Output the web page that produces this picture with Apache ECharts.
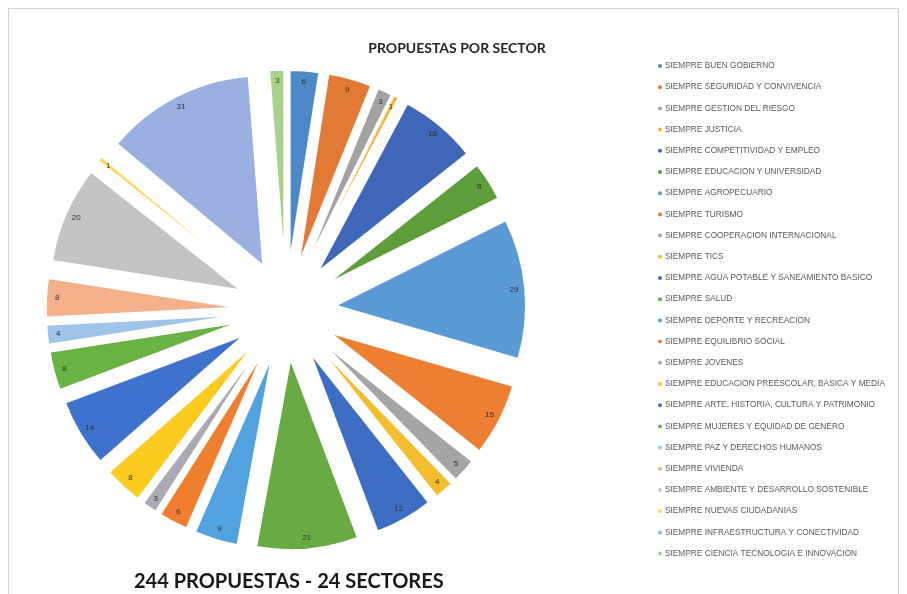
<!DOCTYPE html>
<html>
<head>
<meta charset="utf-8">
<script src="https://cdn.jsdelivr.net/npm/echarts@6/dist/echarts.min.js"></script>
<style>
html,body{margin:0;padding:0;background:#fff;}
#c{width:907px;height:594px;}
</style>
</head>
<body>
<div id="c"></div>
<script>
const categories = [
  "SIEMPRE BUEN GOBIERNO",
  "SIEMPRE SEGURIDAD Y CONVIVENCIA",
  "SIEMPRE GESTION DEL RIESGO",
  "SIEMPRE JUSTICIA",
  "SIEMPRE COMPETITIVIDAD Y EMPLEO",
  "SIEMPRE EDUCACION Y UNIVERSIDAD",
  "SIEMPRE AGROPECUARIO",
  "SIEMPRE TURISMO",
  "SIEMPRE COOPERACION INTERNACIONAL",
  "SIEMPRE TICS",
  "SIEMPRE AGUA POTABLE Y SANEAMIENTO BASICO",
  "SIEMPRE SALUD",
  "SIEMPRE DEPORTE Y RECREACION",
  "SIEMPRE EQUILIBRIO SOCIAL",
  "SIEMPRE JOVENES",
  "SIEMPRE EDUCACION PREESCOLAR, BASICA Y MEDIA",
  "SIEMPRE ARTE, HISTORIA, CULTURA Y PATRIMONIO",
  "SIEMPRE MUJERES Y EQUIDAD DE GENERO",
  "SIEMPRE PAZ Y DERECHOS HUMANOS",
  "SIEMPRE VIVIENDA",
  "SIEMPRE AMBIENTE Y DESARROLLO SOSTENIBLE",
  "SIEMPRE NUEVAS CIUDADANIAS",
  "SIEMPRE INFRAESTRUCTURA Y CONECTIVIDAD",
  "SIEMPRE CIENCIA TECNOLOGIA E INNOVACION"
];
const values = [6, 9, 3, 1, 16, 8, 29, 15, 5, 4, 12, 21, 9, 6, 3, 8, 14, 8, 4, 8, 20, 1, 31, 3];
const colors = [
  "#4d89c7", "#e27a35", "#a2a2a2", "#f2b531", "#3f66b9", "#5e9f3c",
  "#5b9bd5", "#ec7f32", "#a5a5a5", "#f3bd2d", "#3e6ec4", "#69aa42",
  "#52a2e0", "#ef7e2e", "#a9aab6", "#fccb1f", "#3f72cc", "#69b244",
  "#a0c4e8", "#f4b08a", "#c4c4c4", "#ffd966", "#9ab0e0", "#a9d18e"
];
const titleText = "PROPUESTAS POR SECTOR";
const footerText = "244 PROPUESTAS - 24 SECTORES";

const chart = echarts.init(document.getElementById('c'), null, {renderer: 'canvas'});
const pieData = categories.map((n, i) => ({
  name: n, value: values[i], selected: true,
  itemStyle: {color: colors[i]}
}));
const labelData = categories.map((n, i) => ({
  name: n, value: values[i], selected: true
}));
const center = [286, 310];
const R = 190;
const OFF = 50;
chart.setOption({
  animation: false,
  backgroundColor: '#fff',
  color: colors,
  title: {
    text: titleText,
    left: 452, top: 36, textAlign: 'center',
    textStyle: {fontFamily: 'Lato', fontWeight: 'bold', fontSize: 14, color: '#262626'}
  },
  graphic: [
    {type: 'rect', shape: {x: 8.5, y: 8.5, width: 890, height: 600}, style: {fill: 'none', stroke: '#d0d0d0', lineWidth: 1}, silent: true},
    {type: 'text', left: 134, top: 572, style: {text: footerText, font: 'bold 20px Lato', fill: '#1a1a1a'}}
  ],
  legend: {
    orient: 'vertical',
    left: 651, top: 57,
    icon: 'circle',
    itemWidth: 6, itemHeight: 6,
    itemGap: 13.2,
    selectedMode: false,
    data: categories,
    textStyle: {fontFamily: 'Liberation Sans', fontSize: 8.3, color: '#595959', padding: [0,0,0,-3]}
  },
  series: [
    {
      type: 'pie',
      center: center,
      radius: [0, R],
      startAngle: 90,
      clockwise: true,
      selectedMode: 'multiple',
      selectedOffset: OFF,
      avoidLabelOverlap: false,
      label: {show: false},
      labelLine: {show: false},
      emphasis: {disabled: true},
      itemStyle: {borderColor: '#fff', borderWidth: 1.5},
      data: pieData
    },
    {
      type: 'pie',
      center: center,
      radius: [R - 26, R - 2],
      startAngle: 90,
      clockwise: true,
      selectedMode: 'multiple',
      selectedOffset: OFF,
      avoidLabelOverlap: false,
      silent: true,
      legendHoverLink: false,
      emphasis: {disabled: true},
      itemStyle: {color: 'rgba(0,0,0,0)'},
      label: {show: true, position: 'inner', formatter: '{c}', fontSize: 8, fontFamily: 'Liberation Sans', color: '#303030'},
      labelLine: {show: false},
      tooltip: {show: false},
      data: labelData
    }
  ]
});
</script>
</body>
</html>
